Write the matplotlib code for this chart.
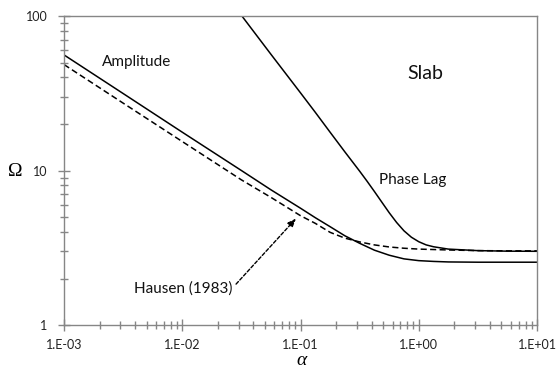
import matplotlib
matplotlib.use('Agg')
from matplotlib import pyplot as plt
from matplotlib.ticker import FixedLocator, FixedFormatter, LogLocator, NullFormatter
import numpy as np

# alpha values (log-spaced reading grid) and the three curves
alpha = [1e-3, 10**-2.5, 1e-2, 10**-1.5, 10**-1.25, 1e-1, 10**-0.875, 10**-0.75,
         10**-0.625, 10**-0.5, 10**-0.375, 10**-0.25, 10**-0.125, 1.0,
         10**0.125, 10**0.25, 10**0.5, 10**0.75, 10.0]
amplitude = [56.0, 31.5, 17.7, 10.0, 7.5, 5.7, 4.95, 4.33,
             3.78, 3.38, 3.05, 2.83, 2.68, 2.61,
             2.58, 2.56, 2.55, 2.55, 2.55]
hausen = [48.5, 27.3, 15.4, 8.7, 6.7, 5.1, 4.55, 3.98,
          3.65, 3.45, 3.3, 3.2, 3.14, 3.1,
          3.08, 3.06, 3.03, 3.02, 3.02]

alpha_phase = [10**-1.5, 10**-1.25, 1e-1, 10**-0.875, 10**-0.75, 10**-0.625,
               10**-0.5, 10**-0.4375, 10**-0.375, 10**-0.3125, 10**-0.25,
               10**-0.1875, 10**-0.125, 10**-0.0625, 1.0, 10**0.0625, 10**0.125,
               10**0.25, 10**0.5, 10**0.75, 10.0]
phase_lag = [101.0, 56.5, 31.8, 23.8, 17.7, 13.2,
             9.9, 8.53, 7.31, 6.24, 5.33,
             4.61, 4.07, 3.70, 3.46, 3.30, 3.21,
             3.10, 3.03, 3.006, 3.0]

x_ticks = [1e-3, 1e-2, 1e-1, 1e0, 1e1]
x_tick_labels = ['1.E-03', '1.E-02', '1.E-01', '1.E+00', '1.E+01']
y_ticks = [1, 10, 100]
y_tick_labels = ['1', '10', '100']

plt.rcParams['font.family'] = ['Lato', 'DejaVu Sans']
axis_grey = '#868686'

fig = plt.figure(figsize=(5.6, 3.68), dpi=100)
ax = fig.add_axes([0.1143, 0.1168, 0.8447, 0.8397])

ax.plot(alpha, amplitude, color='black', linewidth=1.1)
ax.plot(alpha, hausen, color='black', linewidth=1.1, linestyle=(0, (4, 2.2)))
ax.plot(alpha_phase, phase_lag, color='black', linewidth=1.1)

ax.set_xscale('log')
ax.set_yscale('log')
ax.set_xlim(1e-3, 1e1)
ax.set_ylim(1, 100)

ax.xaxis.set_major_locator(FixedLocator(x_ticks))
ax.xaxis.set_major_formatter(FixedFormatter(x_tick_labels))
ax.yaxis.set_major_locator(FixedLocator(y_ticks))
ax.yaxis.set_major_formatter(FixedFormatter(y_tick_labels))
ax.xaxis.set_minor_locator(LogLocator(base=10, subs=np.arange(2, 10)))
ax.yaxis.set_minor_locator(LogLocator(base=10, subs=np.arange(2, 10)))
ax.xaxis.set_minor_formatter(NullFormatter())
ax.yaxis.set_minor_formatter(NullFormatter())

ax.tick_params(which='major', direction='inout', length=8, width=1.0,
               color=axis_grey, labelsize=9, labelcolor='#222222', pad=6)
ax.tick_params(which='minor', direction='inout', length=6, width=1.0, color=axis_grey)
ax.tick_params(axis='y', which='major', pad=8)

for side in ['left', 'bottom', 'top', 'right']:
    ax.spines[side].set_color(axis_grey)
    ax.spines[side].set_linewidth(1.0)

# curve labels
ax.text(0.00412, 50.6, 'Amplitude', fontsize=11, ha='center', va='center', color='#111111')
ax.text(1.13, 42.5, 'Slab', fontsize=14, ha='center', va='center', color='#111111')
ax.text(0.894, 8.68, 'Phase Lag', fontsize=11, ha='center', va='center', color='#111111')
ax.text(0.0268, 1.73, 'Hausen (1983)', fontsize=11, ha='right', va='center', color='#111111')
ax.annotate('', xy=(0.0916, 4.89), xytext=(0.0285, 1.84),
            arrowprops=dict(arrowstyle='-|>,head_length=0.5,head_width=0.2',
                            color='black', linewidth=1.0, linestyle=(0, (2.5, 1.5)),
                            shrinkA=0, shrinkB=0))

ax.set_ylabel('Ω', family=['Liberation Serif'], fontsize=14, rotation=0,
              ha='center', va='center')
ax.yaxis.set_label_coords(-0.1036, 0.496)
ax.set_xlabel('α', family=['Liberation Serif'], style='italic', fontsize=14,
              ha='center', va='center')
ax.xaxis.set_label_coords(0.5025, -0.115)

fig.savefig('out.png', dpi=100)
